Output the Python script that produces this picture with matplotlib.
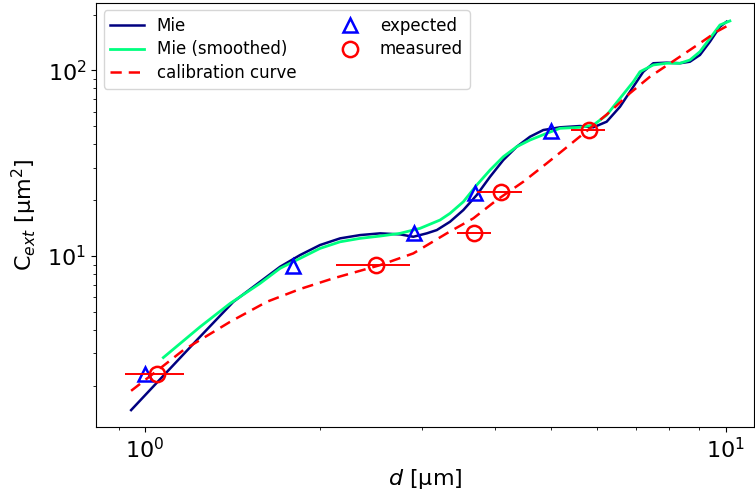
import matplotlib
matplotlib.use("Agg")
import matplotlib.pyplot as plt

# Mie (raw)
mie_d = [0.946, 1.227, 1.419, 1.708, 1.849, 2.001, 2.167, 2.346, 2.540, 2.749, 2.897,
         3.056, 3.180, 3.351, 3.533, 3.726, 3.928, 4.140, 4.366, 4.603, 4.852, 5.184,
         5.612, 5.916, 6.238, 6.577, 6.934, 7.214, 7.505, 7.913, 8.342, 8.679, 9.030,
         9.397, 9.777, 10.04]
mie_c = [1.48, 3.52, 5.67, 8.76, 10.13, 11.47, 12.46, 12.98, 13.26, 13.09, 12.71,
         13.26, 13.81, 15.31, 17.70, 21.33, 26.76, 32.92, 38.83, 43.98, 47.78, 49.41,
         50.21, 49.41, 52.97, 63.8, 81.8, 98.5, 109.4, 110.2, 109.4, 111.5, 121.2,
         143.0, 172.2, 183.3]

# Mie (smoothed)
mies_d = [1.075, 1.244, 1.40, 1.578, 1.708, 1.849, 2.001, 2.167, 2.346, 2.540, 2.749, 2.976,
          3.221, 3.351, 3.533, 3.726, 3.928, 4.140, 4.366, 4.603, 4.918, 5.184, 5.612,
          5.916, 6.238, 6.577, 6.934, 7.119, 7.505, 7.913, 8.342, 8.679, 9.030, 9.397,
          9.777, 10.17]
mies_c = [2.84, 4.16, 5.55, 7.13, 8.59, 9.72, 11.00, 11.94, 12.46, 12.82, 13.26, 14.11,
          15.64, 16.99, 19.62, 24.14, 29.08, 34.30, 38.83, 42.2, 45.86, 48.8, 49.4,
          50.8, 57.5, 70.8, 87.0, 98.5, 107.1, 109.4, 109.4, 113.9, 126.3, 149.1,
          175.9, 184.9]

# calibration curve
cal_d = [0.946, 1.05, 1.163, 1.40, 1.62, 1.85, 2.107, 2.54, 2.897, 3.308, 3.676, 4.033,
         4.482, 4.918, 5.252, 5.84, 6.322, 6.84, 7.407, 8.342, 9.03, 9.65, 10.24]
cal_c = [1.88, 2.42, 3.11, 4.42, 5.67, 6.65, 7.58, 8.94, 10.34, 13.26, 15.97, 20.04,
         25.15, 31.6, 37.27, 48.8, 59.97, 75.4, 92.6, 118.7, 140.2, 161.9, 179]

# expected
exp_d = [1.0, 1.796, 2.90, 3.70, 5.00]
exp_c = [2.31, 8.83, 13.25, 21.8, 47.3]

# measured with horizontal error ranges
meas_d = [1.05, 2.50, 3.69, 4.11, 5.82]
meas_c = [2.31, 8.94, 13.25, 22.2, 47.8]
meas_lo = [0.924, 2.13, 3.45, 3.73, 5.41]
meas_hi = [1.167, 2.86, 3.94, 4.45, 6.20]

fig = plt.figure(figsize=(7.55, 4.97), dpi=100)
ax = fig.add_axes([96/755, 70/497, (754-96)/755, (427-3)/497])

ax.plot(mie_d, mie_c, color="navy", lw=1.8, label="Mie")
ax.plot(mies_d, mies_c, color="springgreen", lw=2.0, label="Mie (smoothed)")
ax.plot(cal_d, cal_c, color="red", lw=1.8, ls=(0, (4.5, 2.8)), label="calibration curve")
ax.plot(exp_d, exp_c, ls="none", marker="^", ms=10, mfc="none", mec="blue", mew=1.8,
        label="expected")
xerr = [[m - l for m, l in zip(meas_d, meas_lo)], [h - m for m, h in zip(meas_d, meas_hi)]]
ax.errorbar(meas_d, meas_c, xerr=xerr, fmt="none", ecolor="red", elinewidth=1.4)
ax.plot(meas_d, meas_c, ls="none", marker="o", ms=11, mfc="none", mec="red", mew=1.8,
        label="measured")

ax.set_xscale("log")
ax.set_yscale("log")
ax.set_xlim(0.823, 11.19)
ax.set_ylim(1.2, 231)
ax.tick_params(axis="both", which="major", labelsize=16)
ax.set_xlabel("$d$ [μm]", fontsize=16)
ax.set_ylabel("C$_{ext}$ [μm$^2$]", fontsize=16, labelpad=6)
ax.legend(ncol=2, loc="upper left", fontsize=12, labelspacing=0.32,
          borderaxespad=0.45, columnspacing=2.2)

fig.savefig("out.png", dpi=100)
